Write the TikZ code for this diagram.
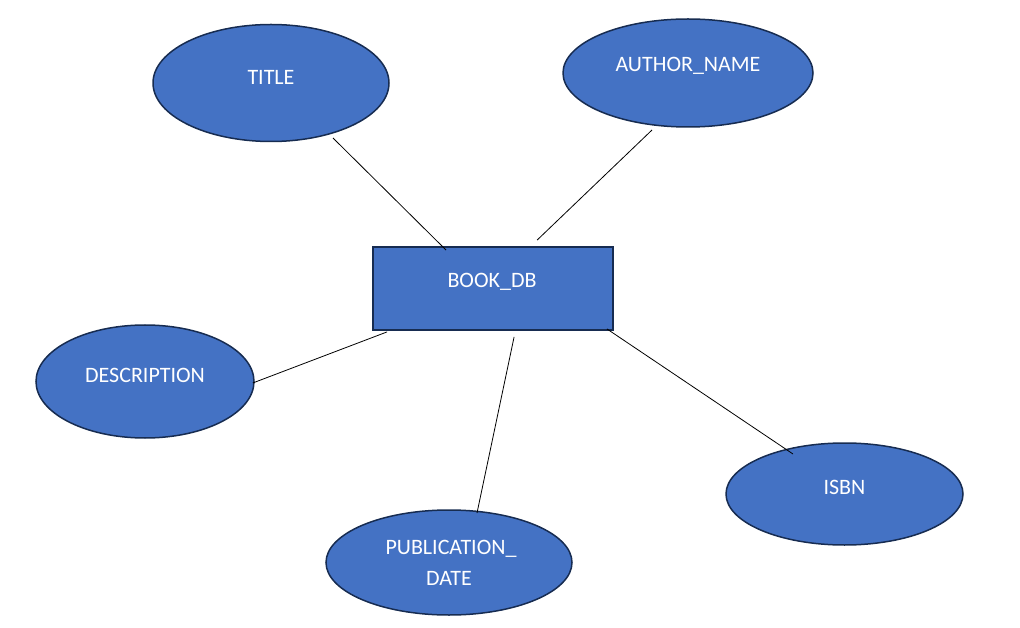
\documentclass[tikz,border=0pt]{standalone}
\usepackage{fontspec}
\setmainfont{Carlito}
\usetikzlibrary{shapes.geometric,calc}
\definecolor{fillblue}{HTML}{4472C4}
\definecolor{edgeblue}{HTML}{172C51}
\tikzset{
  attr/.style={ellipse, draw=edgeblue, fill=fillblue, line width=1.5pt, inner sep=0pt},
  ent/.style={rectangle, draw=edgeblue, fill=fillblue, line width=1.8pt, inner sep=0pt, minimum width=240pt, minimum height=83pt},
  lbl/.style={text=white, font=\fontsize{22}{26}\selectfont, align=center, inner sep=0pt},
  conn/.style={draw=black, line width=0.8pt}
}
\begin{document}
\begin{tikzpicture}[x=1pt,y=-1pt]
\useasboundingbox (0,0) rectangle (1020,628);
% entity
\node[ent] (book) at (493,288.5) {};
\node[lbl] (bookt) at (492,282) {BOOK\_DB};
% attributes
\node[attr, minimum width=236pt, minimum height=117pt] (title) at (271,83) {};
\node[lbl] (titlet) at (271,77) {TITLE};
\node[attr, minimum width=250pt, minimum height=108pt] (author) at (688,73) {};
\node[lbl] (authort) at (688,66) {AUTHOR\_NAME};
\node[attr, minimum width=218pt, minimum height=113pt] (desc) at (145,381.5) {};
\node[lbl] (desct) at (145,375) {DESCRIPTION};
\node[attr, minimum width=237pt, minimum height=102pt] (isbn) at (844.5,494) {};
\node[lbl] (isbnt) at (844.5,487) {ISBN};
\node[attr, minimum width=246pt, minimum height=105pt] (pub) at (449,562.5) {};
\node[lbl] (pubt1) at (451,549) {PUBLICATION\_};
\node[lbl] (pubt2) at (449,578) {DATE};
% connectors
\draw[conn] ([shift={(62,55)}]title.center) -- ([xshift=74pt,yshift=-4pt]book.north west);
\draw[conn] ([shift={(-36,57)}]author.center) -- ([xshift=165pt,yshift=6pt]book.north west);
\draw[conn] (desc.east) ++(-2,1.5) -- ([xshift=15pt,yshift=-1pt]book.south west);
\draw[conn] ([shift={(28,-49.5)}]pub.center) -- ([xshift=142pt,yshift=-6pt]book.south west);
\draw[conn] ([shift={(-51.5,-40)}]isbn.center) -- ([xshift=-7pt,yshift=2pt]book.south east);
\end{tikzpicture}
\end{document}
